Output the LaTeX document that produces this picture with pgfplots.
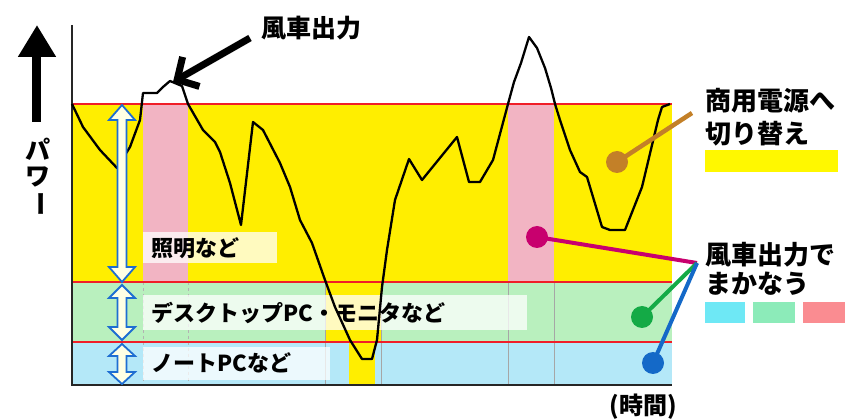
\documentclass[border=0pt]{standalone}
\usepackage{pgfplots}
\pgfplotsset{compat=1.18}
\usepackage{fontspec}
\setmainfont{Liberation Serif}
\newfontfamily\jp{Noto Sans CJK JP}
\usetikzlibrary{arrows.meta}
\newcommand\fs[1]{\fontsize{#1}{#1}\selectfont}

\definecolor{cY}{RGB}{255,238,0}
\definecolor{cPink}{RGB}{242,180,195}
\definecolor{cGreen}{RGB}{185,240,190}
\definecolor{cBlue}{RGB}{180,232,248}
\definecolor{cRed}{RGB}{240,30,40}
\definecolor{cArrow}{RGB}{30,110,210}
\definecolor{cCream}{RGB}{255,255,228}
\definecolor{cBrown}{RGB}{195,128,40}
\definecolor{cMag}{RGB}{200,0,110}
\definecolor{cDG}{RGB}{20,170,70}
\definecolor{cDB}{RGB}{20,105,200}
\definecolor{sCyan}{RGB}{110,232,245}
\definecolor{sMint}{RGB}{140,235,185}
\definecolor{sSalmon}{RGB}{250,140,145}
\definecolor{sYellow}{RGB}{255,248,0}

% double-headed arrow: x, y top, y bottom, head length
\newcommand\darrow[4]{%
  \draw[cArrow, line width=1.8pt, fill=cCream, line join=miter]
    (axis cs:#1,#2) -- (axis cs:#1+13,#2+#4) -- (axis cs:#1+4.5,#2+#4)
    -- (axis cs:#1+4.5,#3-#4) -- (axis cs:#1+13,#3-#4) -- (axis cs:#1,#3)
    -- (axis cs:#1-13,#3-#4) -- (axis cs:#1-4.5,#3-#4) -- (axis cs:#1-4.5,#2+#4)
    -- (axis cs:#1-13,#2+#4) -- cycle;}

\begin{document}
\begin{tikzpicture}
\begin{axis}[
  width=600pt, height=360pt, scale only axis,
  xmin=72, xmax=672, ymin=25, ymax=385, y dir=reverse,
  hide axis, clip=false,
]
% bands
\addplot[fill=cY, draw=none] coordinates {(72,104) (672,104) (672,282) (72,282)} -- cycle;
\addplot[fill=cGreen, draw=none] coordinates {(72,282) (672,282) (672,342) (72,342)} -- cycle;
\addplot[fill=cBlue, draw=none] coordinates {(72,342) (672,342) (672,385) (72,385)} -- cycle;
\addplot[fill=cY, draw=none] coordinates {(325,282) (381,282) (381,342) (325,342)} -- cycle;
\addplot[fill=cY, draw=none] coordinates {(349,342) (375,342) (375,385) (349,385)} -- cycle;
\addplot[fill=cPink, draw=none] coordinates {(143,104) (188,104) (188,282) (143,282)} -- cycle;
\addplot[fill=cPink, draw=none] coordinates {(508,104) (554,104) (554,282) (508,282)} -- cycle;

% thin vertical guides
\addplot[gray!60, dashed, line width=0.6pt] coordinates {(143,282) (143,385)};
\addplot[gray!60, dashed, line width=0.6pt] coordinates {(188,282) (188,385)};
\addplot[gray!70, line width=0.6pt] coordinates {(325,282) (325,385)};
\addplot[gray!70, line width=0.6pt] coordinates {(381,282) (381,385)};
\addplot[gray!70, line width=0.6pt] coordinates {(508,282) (508,385)};
\addplot[gray!70, line width=0.6pt] coordinates {(554,282) (554,385)};

% red level lines
\addplot[cRed, line width=1.5pt] coordinates {(72,104) (672,104)};
\addplot[cRed, line width=1.5pt] coordinates {(72,282) (672,282)};
\addplot[cRed, line width=1.5pt] coordinates {(72,342) (672,342)};

% axes
\draw[black!85, line width=1.4pt] (axis cs:72,25) -- (axis cs:72,385) -- (axis cs:672,385);

% text boxes
\fill[white, opacity=0.75] (axis cs:143,232) rectangle (axis cs:277,263);
\fill[white, opacity=0.75] (axis cs:143,295) rectangle (axis cs:527,330);
\fill[white, opacity=0.75] (axis cs:143,347) rectangle (axis cs:330,380);

% wind power output
\addplot[black, line width=2.3pt, line join=round] coordinates {
(72,104) (83,127) (100,150) (117,168) (130,147) (140,120) (143,93)
(157,93) (163,87) (170,81) (182,86) (188,104) (203,130) (215,142)
(220,152) (230,183) (241,225) (253,122) (263,130) (280,163) (290,187)
(300,220) (312,243) (325,280) (335,307) (350,340) (362,359) (372,359)
(377,340) (382,287) (387,250) (395,200) (409,159) (422,180) (457,137)
(469,182) (480,182) (493,160) (508,104) (514,82) (521,63) (529,37)
(537,48) (545,68) (551,88) (555,104) (560,120) (570,150) (580,172)
(587,177) (602,227) (610,230) (625,230) (642,187) (658,120) (662,107)
(670,104)
};

% band labels
\node[anchor=west, font=\jp\bfseries\fs{22}] at (axis cs:148,248) {照明など};
\node[anchor=west, font=\jp\bfseries\fs{22}] at (axis cs:148,313) {デスクトップPC・モニタなど};
\node[anchor=west, font=\jp\bfseries\fs{22}] at (axis cs:148,363) {ノートPCなど};

% double arrows
\darrow{122}{105}{282}{15}
\darrow{122}{285}{340}{13}
\darrow{122}{344}{384}{12}

% power arrow and label
\draw[black, line width=9pt, -{Triangle[length=32pt,width=36pt]}] (axis cs:37,122) -- (axis cs:37,25);
\node[font=\jp\bfseries\fs{25}] at (axis cs:38,149) {パ};
\node[font=\jp\bfseries\fs{25}] at (axis cs:38,177) {ワ};
\node[font=\jp\bfseries\fs{25}, rotate=-90] at (axis cs:38,204) {ー};

% wind output label and arrow
\node[anchor=west, font=\jp\bfseries\fs{25}] at (axis cs:258,28) {風車出力};
\draw[black, line width=7pt, -{Straight Barb[length=16pt,width=34pt]}] (axis cs:250,38) -- (axis cs:173,82);

% commercial power legend
\draw[cBrown, line width=4.5pt] (axis cs:617,162) -- (axis cs:692,113);
\fill[cBrown] (axis cs:617,162) circle[radius=11pt];
\node[anchor=west, font=\jp\bfseries\fs{26}] at (axis cs:702,101) {商用電源へ};
\node[anchor=west, font=\jp\bfseries\fs{26}] at (axis cs:702,134) {切り替え};
\fill[sYellow] (axis cs:705,150) rectangle (axis cs:838,172);

% wind-covered legend
\draw[cMag, line width=4pt] (axis cs:537,237) -- (axis cs:697,263);
\fill[cMag] (axis cs:537,237) circle[radius=11pt];
\draw[cDG, line width=4pt] (axis cs:642,317) -- (axis cs:697,263);
\fill[cDG] (axis cs:642,317) circle[radius=11pt];
\draw[cDB, line width=4pt] (axis cs:653,363) -- (axis cs:697,263);
\fill[cDB] (axis cs:653,363) circle[radius=11pt];
\node[anchor=west, font=\jp\bfseries\fs{26}] at (axis cs:702,255) {風車出力で};
\node[anchor=west, font=\jp\bfseries\fs{26}] at (axis cs:702,284) {まかなう};
\fill[sCyan] (axis cs:705,302) rectangle (axis cs:745,323);
\fill[sMint] (axis cs:753,302) rectangle (axis cs:795,323);
\fill[sSalmon] (axis cs:803,302) rectangle (axis cs:845,323);

% time label
\node[font=\jp\bfseries\fs{24}] at (axis cs:643,407) {(時間)};

\coordinate (BL) at (axis cs:0,419);
\coordinate (TR) at (axis cs:846,0);
\end{axis}
\pgfresetboundingbox
\path (BL) rectangle (TR);
\end{tikzpicture}
\end{document}
